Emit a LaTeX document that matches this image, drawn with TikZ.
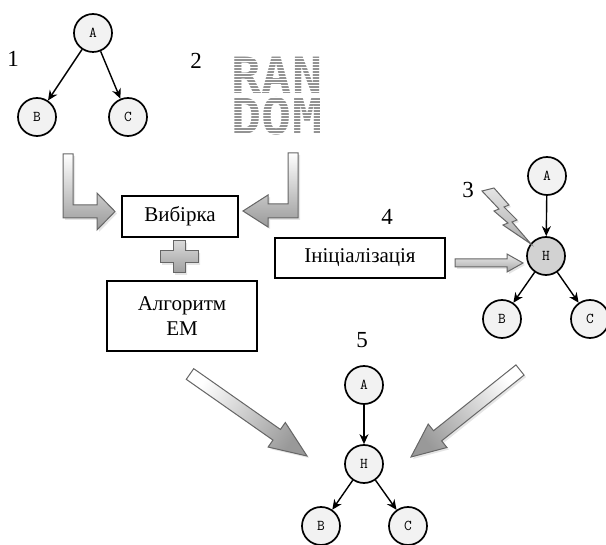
\documentclass[tikz,border=0pt]{standalone}
\usepackage{fontspec}
\setmainfont{Liberation Serif}
\newfontfamily\randomfont{DejaVu Sans Mono}
\usepackage{tikz}
\usetikzlibrary{arrows.meta}
\usetikzlibrary{calc}
\usetikzlibrary{shadows}

\begin{document}
\begin{tikzpicture}[x=1pt,y=-1pt]
      \newcommand{\fatarrow}[6][]{%
        \coordinate (fb) at ($(#3)!#6!(#2)$);
        \shade[bigarrow,#1] ($(#2)!#4!90:(#3)$) -- ($(fb)!#4!90:(#3)$) -- ($(fb)!#5!90:(#3)$) -- (#3)
          -- ($(fb)!#5!-90:(#3)$) -- ($(fb)!#4!-90:(#3)$) -- ($(#2)!#4!-90:(#3)$) -- cycle;}
      \tikzstyle{vertex}=[
        circle,
        draw=black,
        line width=1.7pt,
        fill=gray!10,
        minimum size=38pt,
        inner sep=0pt,
        font=\ttfamily\fontsize{15}{15}\selectfont,
      ]
      \tikzstyle{dedge} = [-{Stealth[length=10pt,width=9pt]},line width=1.4pt,draw=black]
      \tikzstyle{box}=[draw=black, line width=1.3pt, inner sep=0pt, font=\fontsize{21}{25}\selectfont]
      \tikzstyle{num}=[font=\fontsize{23}{24}\selectfont]
      \tikzstyle{rnd}=[text=gray!85, inner sep=0pt, text height=36pt, text depth=0pt,
        font=\randomfont\bfseries\fontsize{50}{50}\selectfont]
      \tikzstyle{bigarrow}=[draw=gray!80!black, line width=1pt, top color=white, bottom color=gray!80,
        drop shadow={shadow xshift=2pt, shadow yshift=-2pt, fill=gray!40}]

      \useasboundingbox (0,0) rectangle (606,545);

      \node[num] (l1) at (13,59) {1};
      \node[num] (l2) at (196,61) {2};
      \node[num] (l3) at (468,190) {3};
      \node[num] (l4) at (387,217) {4};
      \node[num] (l5) at (362,340) {5};

      \node[vertex] (a1) at (93,33) {A};
      \node[vertex] (b1) at (37,117) {B};
      \node[vertex] (c1) at (128,117) {C};

      \node[vertex] (a3) at (547,176) {A};
      \node[vertex, fill=gray!35] (h3) at (546,256) {H};
      \node[vertex] (b3) at (502,319) {B};
      \node[vertex] (c3) at (590,319) {C};

      \node[vertex] (a5) at (364,385) {A};
      \node[vertex] (h5) at (364,464) {H};
      \node[vertex] (b5) at (321,526) {B};
      \node[vertex] (c5) at (408,526) {C};

      \draw[dedge] (a1)--(b1);
      \draw[dedge] (a1)--(c1);
      \draw[dedge] (a3)--(h3);
      \draw[dedge] (h3)--(b3);
      \draw[dedge] (h3)--(c3);
      \draw[dedge] (a5)--(h5);
      \draw[dedge] (h5)--(b5);
      \draw[dedge] (h5)--(c5);

      \node[rnd] (ran) at (277,76) {RAN};
      \node[rnd] (dom) at (277,117) {DOM};
      \foreach \y in {56,59,...,137}
        \draw[white, line width=1pt] (222,\y) -- (332,\y);

      \node[box, minimum width=116pt, minimum height=41pt] (sample) at (180,216.5) {Вибірка};
      \node[box, minimum width=150pt, minimum height=70pt, align=center] (em) at (182,316) {Алгоритм\\EM};
      \node[box, minimum width=170pt, minimum height=40pt] (init) at (360,258) {Ініціалізація};

      \shade[bigarrow] (63,154) -- (73,154) -- (73,205) -- (97,205) -- (97,193) -- (115,211.5)
        -- (97,230) -- (97,218) -- (63,218) -- cycle;
      \shade[bigarrow] (288,153) -- (298,153) -- (298,218) -- (268,218) -- (268,227) -- (243,211)
        -- (268,195) -- (268,204) -- (288,204) -- cycle;
      \shade[bigarrow, top color=gray!30, bottom color=gray!75] (173,241) -- (185,241) -- (185,251)
        -- (198,251) -- (198,263) -- (185,263) -- (185,273) -- (173,273) -- (173,263) -- (160,263)
        -- (160,251) -- (173,251) -- cycle;
      \shade[bigarrow, top color=gray!20, bottom color=gray!65] (482,191) -- (494,188) -- (509,205)
        -- (504,207) -- (517,220) -- (512,222) -- (531,244) -- (503,225) -- (508,223) -- (494,211)
        -- (499,209) -- cycle;

      \coordinate (inittail) at (455,263);
      \coordinate (inittip) at (523,263);
      \coordinate (emtail) at (190,374);
      \coordinate (emtip) at (307,456);
      \coordinate (treetail) at (520,370);
      \coordinate (treetip) at (411,457);
      \fatarrow[top color=gray!15, bottom color=gray!70]{inittail}{inittip}{4pt}{9pt}{16pt}
      \fatarrow[shading angle=55]{emtail}{emtip}{6.5pt}{15pt}{37pt}
      \fatarrow[shading angle=-51]{treetail}{treetip}{6.5pt}{15pt}{34pt}
    \end{tikzpicture}
\end{document}
